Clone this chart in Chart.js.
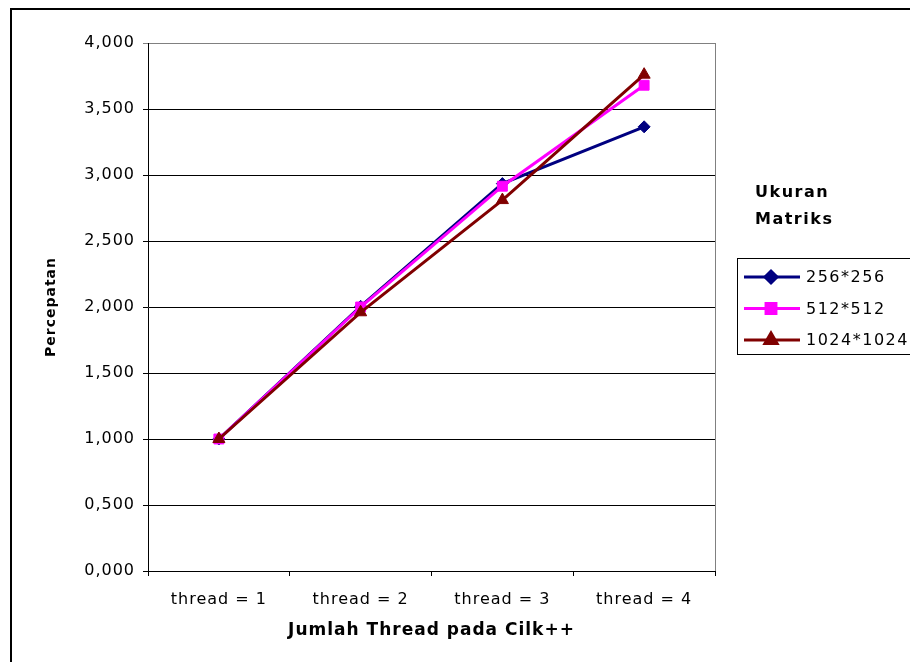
<!DOCTYPE html>
<html>
<head>
<meta charset="utf-8">
<script src="https://cdn.jsdelivr.net/npm/chart.js@4/dist/chart.umd.min.js"></script>
<style>
  body { margin: 0; background: #fff; }
  canvas { display: block; }
</style>
</head>
<body>
<canvas id="speedup-chart" width="910" height="662"></canvas>
<script>
const categories = ['thread = 1', 'thread = 2', 'thread = 3', 'thread = 4'];
const seriesNames = ['256*256', '512*512', '1024*1024'];
const speedup256 = [1.000, 2.005, 2.935, 3.365];
const speedup512 = [1.000, 2.000, 2.915, 3.680];
const speedup1024 = [1.000, 1.960, 2.810, 3.760];
const yTicks = [0, 0.5, 1, 1.5, 2, 2.5, 3, 3.5, 4];

const FONT = "'DejaVu Sans', 'Liberation Sans', Arial, sans-serif";

function getColor(name) {
    if (name === '256*256') return '#000080';
    if (name === '512*512') return '#FF00FF';
    if (name === '1024*1024') return '#800000';
}

function getMarker(name) {
    if (name === '256*256') return { style: 'rectRot', radius: 6 };
    if (name === '512*512') return { style: 'rect', radius: 7 };
    return { style: 'triangle', radius: 7 };
}

const values = [speedup256, speedup512, speedup1024];

// wide letter spacing like the original excel export
const spacingPlugin = {
    id: 'spacing',
    beforeDraw(chart) {
        chart.ctx.letterSpacing = '1px';
    }
};

const framePlugin = {
    id: 'frame',
    beforeDraw(chart) {
        const ctx = chart.ctx;
        ctx.save();
        ctx.fillStyle = '#fff';
        ctx.fillRect(0, 0, chart.width, chart.height);
        ctx.strokeStyle = '#000';
        ctx.lineWidth = 2;
        ctx.strokeRect(11, 9, 1000, 1000);
        ctx.restore();
    },
    afterDatasetsDraw(chart) {
        const a = chart.chartArea;
        const ctx = chart.ctx;
        ctx.save();
        ctx.strokeStyle = '#808080';
        ctx.lineWidth = 1;
        ctx.beginPath();
        ctx.moveTo(a.right + 0.5, a.top);
        ctx.lineTo(a.right + 0.5, a.bottom);
        ctx.stroke();
        ctx.restore();
    }
};

const legendPlugin = {
    id: 'sideLegend',
    afterDraw(chart) {
        const ctx = chart.ctx;
        ctx.save();
        ctx.letterSpacing = '1.5px';
        ctx.fillStyle = '#000';
        ctx.textBaseline = 'middle';
        ctx.textAlign = 'left';
        ctx.font = 'bold 16px ' + FONT;
        ctx.fillText('Ukuran', 755, 193);
        ctx.fillText('Matriks', 755, 220);

        ctx.strokeStyle = '#000';
        ctx.lineWidth = 1;
        ctx.strokeRect(737.5, 258.5, 200, 96);

        ctx.font = '16px ' + FONT;
        chart.data.datasets.forEach((ds, i) => {
            const y = 277 + i * 31.5;
            ctx.strokeStyle = ds.borderColor;
            ctx.lineWidth = 3;
            ctx.beginPath();
            ctx.moveTo(744, y);
            ctx.lineTo(800, y);
            ctx.stroke();
            Chart.helpers.drawPoint(ctx, {
                pointStyle: ds.pointStyle,
                radius: ds.pointRadius,
                rotation: 0,
                borderWidth: 1
            }, 771, y);
            ctx.fillStyle = ds.borderColor;
            ctx.fill();
            ctx.fillStyle = '#000';
            ctx.fillText(ds.label, 806, y + 1);
        });
        ctx.restore();
    }
};

new Chart(document.querySelector('#speedup-chart').getContext('2d'), {
    type: 'line',
    data: {
        labels: categories,
        datasets: seriesNames.map((name, i) => ({
            label: name,
            data: values[i],
            borderColor: getColor(name),
            backgroundColor: getColor(name),
            pointBackgroundColor: getColor(name),
            pointBorderColor: getColor(name),
            pointStyle: getMarker(name).style,
            pointRadius: getMarker(name).radius,
            pointBorderWidth: 1,
            borderWidth: 3,
            tension: 0,
            order: 3 - i
        }))
    },
    options: {
        responsive: false,
        animation: false,
        devicePixelRatio: 1,
        layout: { padding: { left: 39, top: 43, right: 195, bottom: 17 } },
        plugins: {
            legend: { display: false },
            tooltip: { enabled: false }
        },
        scales: {
            x: {
                offset: true,
                grid: {
                    offset: true,
                    drawOnChartArea: false,
                    drawTicks: true,
                    tickLength: 5,
                    color: '#000'
                },
                border: { color: '#000', width: 1 },
                ticks: {
                    color: '#000',
                    font: { family: FONT, size: 16 },
                    padding: 14,
                    maxRotation: 0
                },
                title: {
                    display: true,
                    text: 'Jumlah Thread pada Cilk++',
                    color: '#000',
                    font: { family: FONT, size: 17, weight: 'bold' },
                    padding: { top: 4, bottom: 4 }
                },
                afterFit(scale) { scale.height = 74; }
            },
            y: {
                min: 0,
                max: 4,
                afterBuildTicks(scale) {
                    scale.ticks = yTicks.map(v => ({ value: v }));
                },
                grid: {
                    color: ctx => (ctx.tick && ctx.tick.value === 4 ? '#808080' : '#000'),
                    lineWidth: 1,
                    drawTicks: true,
                    tickLength: 5
                },
                border: { color: '#000', width: 1 },
                ticks: {
                    color: '#000',
                    font: { family: FONT, size: 16 },
                    padding: 8,
                    callback: v => v.toFixed(3).replace('.', ',')
                },
                title: {
                    display: true,
                    text: 'Percepatan',
                    color: '#000',
                    font: { family: FONT, size: 14, weight: 'bold' },
                    padding: { top: 4, bottom: 4 }
                },
                afterFit(scale) { scale.width = 109; }
            }
        }
    },
    plugins: [spacingPlugin, framePlugin, legendPlugin]
});
</script>
</body>
</html>
